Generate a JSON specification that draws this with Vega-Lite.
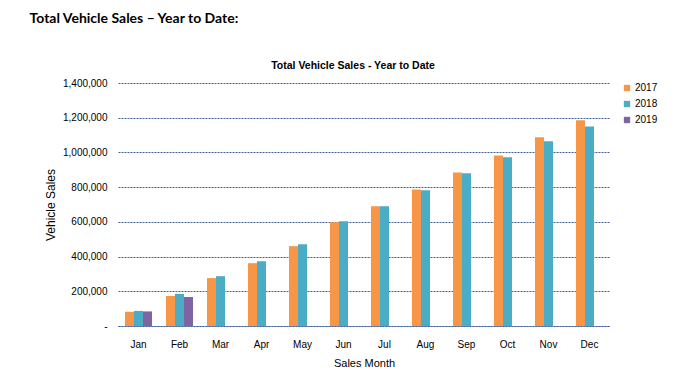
{
  "$schema": "https://vega.github.io/schema/vega-lite/v6.json",
  "background": "white",
  "padding": {"left": 29, "top": 11, "right": 5, "bottom": 5},
  "title": {
    "text": "Total Vehicle Sales – Year to Date:",
    "anchor": "start",
    "dx": -15,
    "font": "Lato",
    "fontSize": 14,
    "fontWeight": "bold",
    "color": "#000000",
    "offset": 35
  },
  "data": {
    "values": [
      {"month": "Jan", "year": "2017", "sales": 82000},
      {"month": "Jan", "year": "2018", "sales": 87000},
      {"month": "Jan", "year": "2019", "sales": 84000},
      {"month": "Feb", "year": "2017", "sales": 173000},
      {"month": "Feb", "year": "2018", "sales": 185000},
      {"month": "Feb", "year": "2019", "sales": 167000},
      {"month": "Mar", "year": "2017", "sales": 276000},
      {"month": "Mar", "year": "2018", "sales": 287000},
      {"month": "Apr", "year": "2017", "sales": 362000},
      {"month": "Apr", "year": "2018", "sales": 373000},
      {"month": "May", "year": "2017", "sales": 460000},
      {"month": "May", "year": "2018", "sales": 471000},
      {"month": "Jun", "year": "2017", "sales": 598000},
      {"month": "Jun", "year": "2018", "sales": 603000},
      {"month": "Jul", "year": "2017", "sales": 690000},
      {"month": "Jul", "year": "2018", "sales": 690000},
      {"month": "Aug", "year": "2017", "sales": 787000},
      {"month": "Aug", "year": "2018", "sales": 782000},
      {"month": "Sep", "year": "2017", "sales": 885000},
      {"month": "Sep", "year": "2018", "sales": 880000},
      {"month": "Oct", "year": "2017", "sales": 983000},
      {"month": "Oct", "year": "2018", "sales": 972000},
      {"month": "Nov", "year": "2017", "sales": 1087000},
      {"month": "Nov", "year": "2018", "sales": 1064000},
      {"month": "Dec", "year": "2017", "sales": 1185000},
      {"month": "Dec", "year": "2018", "sales": 1150000}
    ]
  },
  "vconcat": [
    {
      "width": 492,
      "height": 243,
      "title": {
        "text": "Total Vehicle Sales - Year to Date",
        "anchor": "middle",
        "dx": -11,
        "font": "Liberation Sans",
        "fontSize": 10.5,
        "fontWeight": "bold",
        "color": "#000000",
        "offset": 7
      },
      "mark": {"type": "bar"},
      "encoding": {
        "x": {
          "field": "month",
          "type": "nominal",
          "sort": ["Jan", "Feb", "Mar", "Apr", "May", "Jun", "Jul", "Aug", "Sep", "Oct", "Nov", "Dec"],
          "scale": {"paddingInner": 0.34, "paddingOuter": 0.17},
          "axis": {
            "title": "Sales Month",
            "labelAngle": 0,
            "ticks": false,
            "labelPadding": 13,
            "titlePadding": 8,
            "domainColor": "#3f5f95",
            "domainDash": [2, 1],
            "domainWidth": 1
          }
        },
        "xOffset": {"field": "year", "type": "nominal", "scale": {"paddingInner": 0}},
        "y": {
          "field": "sales",
          "type": "quantitative",
          "scale": {"domain": [0, 1400000], "nice": false},
          "axis": {
            "title": "Vehicle Sales",
            "values": [0, 200000, 400000, 600000, 800000, 1000000, 1200000, 1400000],
            "labelExpr": "datum.value == 0 ? '-' : format(datum.value, ',')",
            "ticks": false,
            "domain": false,
            "labelPadding": 11,
            "titlePadding": 5,
            "grid": true,
            "gridColor": "#3f5f95",
            "gridDash": [2, 1],
            "gridWidth": 1
          }
        },
        "color": {
          "field": "year",
          "type": "nominal",
          "scale": {"domain": ["2017", "2018", "2019"], "range": ["#F79646", "#4BACC6", "#8064A2"]},
          "legend": {
            "title": null,
            "orient": "right",
            "offset": 12,
            "symbolType": "square",
            "symbolSize": 40,
            "symbolStrokeWidth": 0,
            "labelFontSize": 10,
            "labelFont": "Liberation Sans",
            "labelColor": "#000000",
            "rowPadding": 6,
            "labelOffset": 3
          }
        }
      }
    }
  ],
  "config": {
    "view": {"stroke": null},
    "concat": {"spacing": 0},
    "axis": {
      "labelFont": "Liberation Sans",
      "labelFontSize": 10,
      "labelColor": "#000000",
      "titleFont": "Liberation Sans",
      "titleFontSize": 11,
      "titleFontWeight": "normal",
      "titleColor": "#000000"
    },
    "axisY": {"titleFontSize": 12}
  }
}
